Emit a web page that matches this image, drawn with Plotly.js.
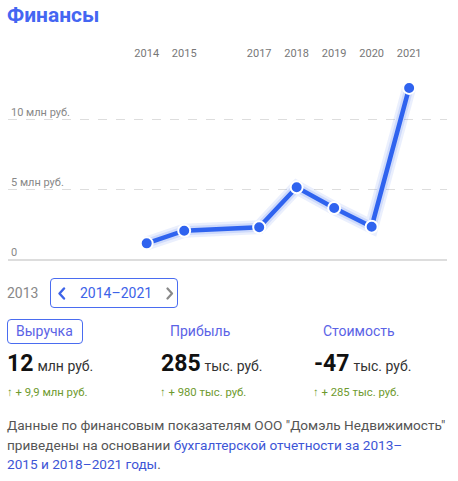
<!DOCTYPE html>
<html>
<head>
<meta charset="utf-8">
<script src="https://cdn.plot.ly/plotly-3.0.1.min.js"></script>
<style>
  html, body { margin: 0; padding: 0; background: #fff; }
  body { width: 458px; height: 481px; position: relative; overflow: hidden; font-family: Roboto, "Noto Sans", sans-serif; }
  #chart { position: absolute; left: 0; top: 0; width: 458px; height: 481px; }
  .abs { position: absolute; white-space: nowrap; }
  .gray { color: #888; }
  .blue { color: #3d63e8; }
  .tab { color: #5b63e6; font-size: 14px; }
  .big { font-size: 23px; font-weight: 700; color: #111; }
  .unit { font-size: 14px; color: #333; }
  .delta { font-size: 11.3px; color: #6e9a2e; }
  .para { font-size: 13.6px; color: #555; line-height: 19.5px; }
  .para a { color: #3d55d6; text-decoration: none; }
</style>
</head>
<body>
<div id="chart"></div>

<div class="abs gray" style="left:7px; top:285px; font-size:14px;">2013</div>
<div class="abs" style="left:50px; top:278px; width:128px; height:30px; border:1px solid #4a6cf0; border-radius:4px; box-sizing:border-box;">
  <svg class="abs" style="left:6px; top:8px;" width="10" height="13"><polyline points="7,1.5 2.5,6.5 7,11.5" fill="none" stroke="#3d63e8" stroke-width="2.4" stroke-linecap="round" stroke-linejoin="round"/></svg>
  <span class="abs blue" style="left:29px; top:6px; font-size:14px;">2014–2021</span>
  <svg class="abs" style="left:114px; top:8px;" width="10" height="13"><polyline points="2.5,1.5 7,6.5 2.5,11.5" fill="none" stroke="#8a8a8a" stroke-width="2.2" stroke-linecap="round" stroke-linejoin="round"/></svg>
</div>

<div class="abs" style="left:7px; top:319px; width:76px; height:25px; border:1px solid #4a6cf0; border-radius:4px; box-sizing:border-box;">
  <span class="abs tab" style="left:8px; top:3px;">Выручка</span>
</div>
<div class="abs tab" style="left:170px; top:323px;">Прибыль</div>
<div class="abs tab" style="left:323px; top:323px;">Стоимость</div>

<div class="abs" style="left:7px; top:350px;"><span class="big">12</span> <span class="unit">млн руб.</span></div>
<div class="abs" style="left:161px; top:350px;"><span class="big">285</span> <span class="unit">тыс. руб.</span></div>
<div class="abs" style="left:314px; top:350px;"><span class="big">-47</span> <span class="unit">тыс. руб.</span></div>

<div class="abs delta" style="left:7px; top:386px;">↑ + 9,9 млн руб.</div>
<div class="abs delta" style="left:160px; top:386px;">↑ + 980 тыс. руб.</div>
<div class="abs delta" style="left:313px; top:386px;">↑ + 285 тыс. руб.</div>

<div class="abs para" style="left:7px; top:416px; white-space:normal; width:451px;">
Данные по финансовым показателям ООО "Домэль Недвижимость"<br>приведены на основании <a>бухгалтерской отчетности за 2013–<br>2015 и 2018–2021 годы</a>.
</div>

<script>
const years = [2014, 2015, 2017, 2018, 2019, 2020, 2021];
const revenueMln = [1.19, 2.09, 2.34, 5.19, 3.71, 2.38, 12.29];
const yTickVals = [0, 5, 10];
const yTickText = ['0', '5 млн руб.', '10 млн руб.'];
const xTickText = ['2014', '2015', '2017', '2018', '2019', '2020', '2021'];

const blue = '#2f63ef';
const traces = [
  { x: years, y: revenueMln, mode: 'lines', line: { color: 'rgba(47,99,239,0.10)', width: 14 }, hoverinfo: 'skip', cliponaxis: false },
  { x: years, y: revenueMln, mode: 'lines', line: { color: 'rgba(47,99,239,0.15)', width: 9 }, hoverinfo: 'skip', cliponaxis: false },
  { x: years, y: revenueMln, mode: 'lines+markers', cliponaxis: false,
    line: { color: blue, width: 4.5 },
    marker: { color: blue, size: 12, line: { color: '#fff', width: 2 } } }
];

const layout = {
  width: 458, height: 481,
  margin: { l: 8, r: 11, t: 70, b: 218 },
  paper_bgcolor: '#fff', plot_bgcolor: '#fff',
  showlegend: false,
  font: { family: 'Roboto, "Noto Sans", sans-serif' },
  title: {
    text: '<b>Финансы</b>',
    x: 7 / 458, xanchor: 'left', xref: 'container',
    y: 1 - 15 / 481, yanchor: 'middle', yref: 'container',
    font: { size: 21, color: '#4466f2', family: 'Roboto, sans-serif' }
  },
  xaxis: {
    side: 'top', range: [2010.30, 2022.01],
    tickvals: years, ticktext: xTickText,
    showgrid: false, zeroline: false, showline: false,
    ticks: 'outside', ticklen: 8, tickcolor: 'rgba(0,0,0,0)',
    tickfont: { size: 11, color: '#777' }
  },
  yaxis: {
    range: [-0.214, 13.57],
    tickvals: yTickVals, ticktext: yTickText,
    ticklabelposition: 'inside top',
    showgrid: true, gridcolor: '#dddddd', griddash: 'dash', gridwidth: 1,
    zeroline: true, zerolinecolor: '#dddddd', zerolinewidth: 1.5,
    showline: false, ticks: '',
    tickfont: { size: 11, color: '#888' }
  }
};

Plotly.newPlot('chart', traces, layout, { displayModeBar: false, staticPlot: true });
</script>
</body>
</html>
